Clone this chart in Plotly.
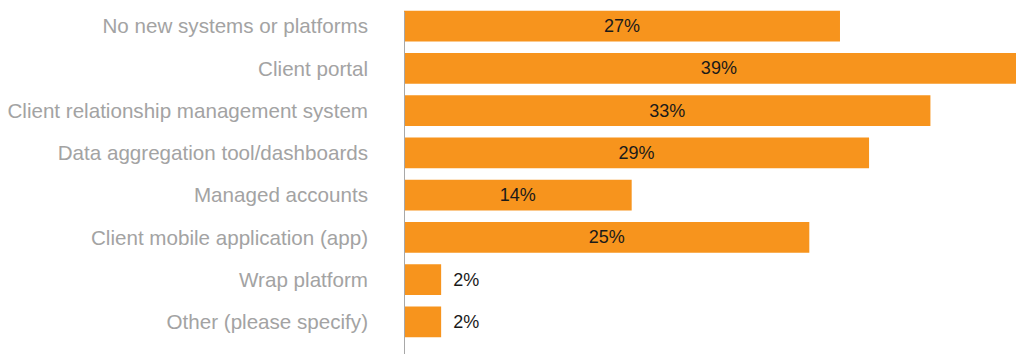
import plotly.graph_objects as go

categories = [
    "No new systems or platforms",
    "Client portal",
    "Client relationship management system",
    "Data aggregation tool/dashboards",
    "Managed accounts",
    "Client mobile application (app)",
    "Wrap platform",
    "Other (please specify)",
]
values = [27.0, 39.0, 32.6, 28.8, 14.1, 25.1, 2.3, 2.3]
value_labels = ["27%", "39%", "33%", "29%", "14%", "25%", "2%", "2%"]

positions = ["inside" if v > 5 else "outside" for v in values]
texts = [t if p == "inside" else "\u2002" + t for t, p in zip(value_labels, positions)]

fig = go.Figure(
    go.Bar(
        y=categories,
        x=values,
        orientation="h",
        marker=dict(color="#F7941D", line=dict(width=0)),
        text=texts,
        textposition=positions,
        insidetextanchor="middle",
        textfont=dict(family="Liberation Sans, Arial, sans-serif", size=18, color="#1a1a1a"),
        cliponaxis=True,
        width=0.73,
    )
)

fig.update_layout(
    width=1016,
    height=354,
    margin=dict(l=404, r=0, t=5, b=11),
    paper_bgcolor="white",
    plot_bgcolor="white",
    showlegend=False,
    xaxis=dict(range=[0, 37.9], visible=False, fixedrange=True),
    yaxis=dict(
        autorange="reversed",
        showgrid=False,
        showline=False,
        zeroline=False,
        ticks="",
        ticklabelstandoff=35,
        tickfont=dict(family="Liberation Sans, Arial, sans-serif", size=20.6, color="#a3a3a3"),
    ),
    shapes=[
        dict(
            type="line",
            xref="x",
            yref="paper",
            x0=0,
            x1=0,
            y0=-0.035,
            y1=0.98,
            line=dict(color="#a8a8a8", width=2),
            layer="above",
        )
    ],
)

fig.write_html("out.html")
